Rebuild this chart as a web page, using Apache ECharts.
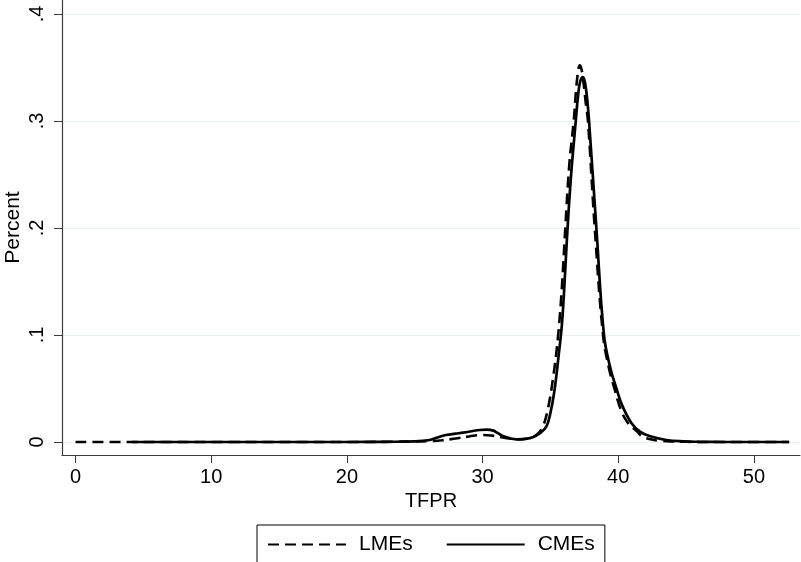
<!DOCTYPE html>
<html>
<head>
<meta charset="utf-8">
<script src="https://cdn.jsdelivr.net/npm/echarts@6/dist/echarts.min.js"></script>
<style>
  html, body { margin: 0; padding: 0; background: #fff; }
  #main { width: 801px; height: 562px; }
</style>
</head>
<body>
<div id="main"></div>
<script>
// density of TFPR
const lmeX = [0, 5, 10, 15, 20, 23, 25, 26, 27, 28, 29, 30, 30.8, 31.8, 32.6, 33.4, 34.0, 34.4, 34.8, 35.2, 35.56, 35.85, 36.1, 36.4, 36.72, 36.9, 37.05, 37.16, 37.3, 37.45, 37.6, 37.77, 38.27, 38.88, 39.3, 39.75, 40.2, 40.72, 41.4, 41.8, 42.4, 43.06, 44, 45, 47, 52.6];
const lmeY = [0, 0, 0, 0, 0, 0.0002, 0.0005, 0.0008, 0.0016, 0.0033, 0.0052, 0.0066, 0.0058, 0.0036, 0.0026, 0.0035, 0.007, 0.013, 0.03, 0.06, 0.098, 0.145, 0.2, 0.26, 0.3, 0.33, 0.347, 0.352, 0.348, 0.335, 0.318, 0.3, 0.2, 0.1, 0.07, 0.0486, 0.03, 0.0178, 0.0097, 0.005, 0.0025, 0.0012, 0.0005, 0.0002, 0, 0];

const cmeX = [4.15, 10, 15, 20, 23, 25, 26.1, 26.6, 27.3, 28, 28.56, 29.8, 30.3, 30.8, 31.1, 31.5, 32.5, 33.2, 33.7, 34.2, 34.7, 35.0, 35.3, 35.6, 35.85, 36.05, 36.22, 36.5, 36.87, 37.05, 37.2, 37.4, 37.55, 37.7, 37.85, 38.39, 38.95, 39.4, 39.87, 40.3, 40.97, 41.6, 42.3, 43.55, 44.8, 46, 48, 52.6];
const cmeY = [0, 0, 0, 0, 0.0002, 0.0006, 0.0019, 0.004, 0.0065, 0.0078, 0.0087, 0.0112, 0.0115, 0.0106, 0.0085, 0.0056, 0.0025, 0.003, 0.0044, 0.008, 0.0143, 0.027, 0.048, 0.08, 0.11, 0.15, 0.19, 0.245, 0.3, 0.325, 0.337, 0.341, 0.336, 0.322, 0.3, 0.2, 0.1, 0.07, 0.05, 0.034, 0.0178, 0.0097, 0.0056, 0.0019, 0.0006, 0.0002, 0, 0];

const xTickValues = [0, 10, 20, 30, 40, 50];
const yTickValues = [0, 0.1, 0.2, 0.3, 0.4];
const yTickLabels = ['0', '.1', '.2', '.3', '.4'];

const zip = (xs, ys) => xs.map((x, i) => [x, ys[i]]);

const chart = echarts.init(document.getElementById('main'));

const axisColor = '#3c3c3c';
const font = 'Liberation Sans, Arial, sans-serif';

const option = {
  animation: false,
  backgroundColor: '#fff',
  grid: {
    left: 62,
    right: 1,
    top: 0,
    bottom: 107,
    containLabel: false,
    outerBoundsMode: 'none'
  },
  legend: {
    left: 257,
    top: 525,
    orient: 'horizontal',
    borderColor: '#000',
    borderWidth: 1,
    borderRadius: 0,
    padding: [9, 10, 20, 10],
    itemWidth: 78,
    itemHeight: 18,
    itemGap: 33,
    itemStyle: { opacity: 0 },
    textStyle: {
      fontFamily: font,
      fontSize: 21,
      color: '#000',
      padding: [0, 0, 0, 8]
    },
    data: ['LMEs', 'CMEs']
  },
  xAxis: {
    type: 'value',
    min: -1.0,
    max: 53.4,
    name: 'TFPR',
    nameLocation: 'middle',
    nameGap: 36,
    nameTextStyle: { fontFamily: font, fontSize: 20, color: '#000' },
    axisLine: { onZero: false, lineStyle: { color: axisColor, width: 1.2 } },
    axisTick: { show: true, length: 8, customValues: xTickValues, lineStyle: { color: axisColor } },
    axisLabel: {
      customValues: xTickValues,
      fontFamily: font,
      fontSize: 20,
      color: '#000',
      margin: 12
    },
    splitLine: { show: false }
  },
  yAxis: {
    type: 'value',
    min: -0.01215,
    max: 0.4131,
    name: 'Percent',
    nameLocation: 'middle',
    nameGap: 38,
    nameMoveOverlap: false,
    nameRotate: 90,
    nameTextStyle: { fontFamily: font, fontSize: 21, color: '#000' },
    axisLine: { show: true, onZero: false, lineStyle: { color: axisColor, width: 1.2 } },
    axisTick: { show: true, length: 8, customValues: yTickValues, lineStyle: { color: axisColor } },
    axisLabel: {
      customValues: yTickValues,
      rotate: 90,
      fontFamily: font,
      fontSize: 20,
      color: '#000',
      margin: 15,
      formatter: v => {
        const i = yTickValues.findIndex(t => Math.abs(t - v) < 1e-9);
        return i >= 0 ? yTickLabels[i] : '';
      }
    },
    splitLine: { show: true, lineStyle: { color: '#e8f0f2', width: 1.2 } }
  },
  series: [
    {
      name: 'LMEs',
      type: 'line',
      data: zip(lmeX, lmeY),
      smooth: 0.4,
      symbol: 'none',
      showSymbol: false,
      color: '#000',
      lineStyle: { color: '#000', width: 2.6, type: [11, 6] },
      z: 3
    },
    {
      name: 'CMEs',
      type: 'line',
      data: zip(cmeX, cmeY),
      smooth: 0.4,
      symbol: 'none',
      showSymbol: false,
      color: '#000',
      lineStyle: { color: '#000', width: 2.7, type: 'solid' },
      z: 2
    }
  ]
};

option && chart.setOption(option);
</script>
</body>
</html>
